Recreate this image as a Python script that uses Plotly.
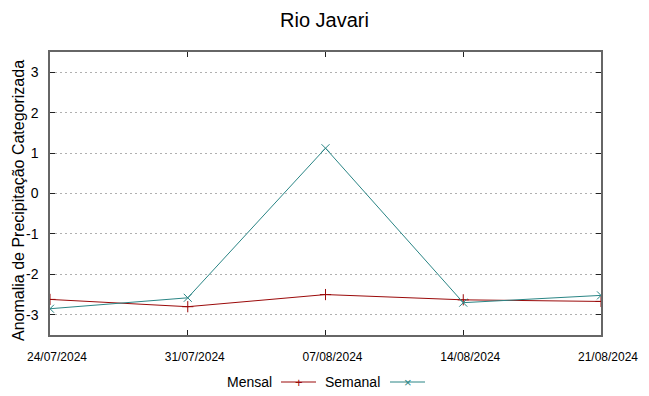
import plotly.graph_objects as go

dates = ["2024-07-24", "2024-07-31", "2024-08-07", "2024-08-14", "2024-08-21"]
tick_labels = ["24/07/2024", "31/07/2024", "07/08/2024", "14/08/2024", "21/08/2024"]
mensal = [-2.62, -2.80, -2.50, -2.63, -2.67]
semanal = [-2.85, -2.58, 1.12, -2.70, -2.52]
y_ticks = [-3, -2, -1, 0, 1, 2, 3]
y_tick_labels = ["-3", "-2", "-1", "0", "1", "2", "3"]

c_mensal = "#9b0a0a"
c_semanal = "#2a8585"
font = "Liberation Sans, Arial, sans-serif"

fig = go.Figure()
fig.add_trace(go.Scatter(x=dates, y=mensal, mode="lines+markers", name="Mensal",
                         line=dict(color=c_mensal, width=1),
                         marker=dict(symbol="cross-thin-open", size=8, color=c_mensal,
                                     line=dict(color=c_mensal, width=1))))
fig.add_trace(go.Scatter(x=dates, y=semanal, mode="lines+markers", name="Semanal",
                         line=dict(color=c_semanal, width=1),
                         marker=dict(symbol="x-thin-open", size=8, color=c_semanal,
                                     line=dict(color=c_semanal, width=1))))

L, R, T, B = 50, 48, 52, 61
PW, PH = 649 - L - R, 396 - T - B

fig.update_layout(
    width=649, height=396,
    margin=dict(l=L, r=R, t=T, b=B, autoexpand=False),
    paper_bgcolor="white", plot_bgcolor="white",
    showlegend=False,
    title=dict(text="Rio Javari", x=0.5, xanchor="center", y=0.95, yanchor="middle",
               font=dict(family=font, size=20, color="black")),
    font=dict(family=font, color="black"),
)
fig.update_xaxes(
    type="date", range=[dates[0], dates[-1]],
    tickvals=dates, ticktext=tick_labels,
    tickfont=dict(size=12, family=font, color="black"),
    ticks="inside", ticklen=5, tickcolor="#222",
    ticklabelshift=7, ticklabelstandoff=10,
    showline=True, linecolor="#666", linewidth=1.5, mirror="allticks",
    showgrid=False, zeroline=False, automargin=False,
)
fig.update_yaxes(
    range=[-3.5, 3.5], tickvals=y_ticks, ticktext=y_tick_labels,
    tickfont=dict(size=14, family=font, color="black"),
    ticks="inside", ticklen=5, tickcolor="#222",
    ticklabelstandoff=7,
    showline=True, linecolor="#666", linewidth=1.5, mirror="allticks",
    showgrid=True, gridcolor="#b0b0b0", griddash="2px,3px", gridwidth=1,
    zeroline=False, automargin=False,
)

# y-axis title as rotated text
fig.add_annotation(text="Anomalia de Precipitação Categorizada", xref="paper", yref="paper",
                   x=(18 - L) / PW, y=(396 - B - 201) / PH, textangle=-90,
                   xanchor="center", yanchor="middle", showarrow=False,
                   font=dict(size=16, family=font, color="black"))

# gnuplot-style legend: text followed by sample line with marker
legend_items = [("Mensal", c_mensal, "+", 274, 281, 316), ("Semanal", c_semanal, "×", 382, 390, 425)]
ly = 382
for name, col, sym, tx, x0, x1 in legend_items:
    fig.add_annotation(text=name, xref="paper", yref="paper",
                       x=(tx - L) / PW, y=(396 - B - ly) / PH,
                       xanchor="right", yanchor="middle", showarrow=False,
                       font=dict(size=14, family=font, color="black"))
    fig.add_shape(type="line", xref="paper", yref="paper",
                  x0=(x0 - L) / PW, x1=(x1 - L) / PW,
                  y0=(396 - B - ly) / PH, y1=(396 - B - ly) / PH,
                  line=dict(color=col, width=1))
    fig.add_annotation(text=sym, xref="paper", yref="paper",
                       x=((x0 + x1) / 2 - L) / PW, y=(396 - B - ly) / PH,
                       xanchor="center", yanchor="middle", showarrow=False,
                       font=dict(size=13, family=font, color=col))

fig.write_html("out.html", config={"displayModeBar": False},
               post_script="document.body.style.margin='0';")
